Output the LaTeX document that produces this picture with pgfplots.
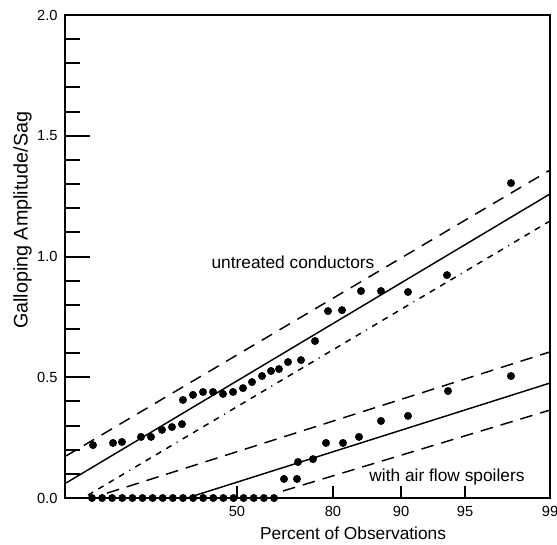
\documentclass[border=0pt]{standalone}
\usepackage{fontspec}
\setmainfont{Liberation Sans}
\usepackage{pgfplots}
\pgfplotsset{compat=1.18}
\begin{document}
\begin{tikzpicture}
\useasboundingbox (-48.75pt,-34.5pt) rectangle (369pt,373.5pt);
\begin{axis}[
  at={(0pt,0pt)}, anchor=south west,
  scale only axis,
  width=363.75pt, height=362.25pt,
  xmin=65, xmax=550, ymin=0, ymax=2,
  clip=false,
  axis line style={line width=1.5pt},
  xtick={237,333,401,465,550},
  xticklabels={50,80,90,95,99},
  ytick={0,0.5,1,1.5,2},
  yticklabels={0.0,0.5,1.0,1.5,2.0},
  minor ytick={0.1,0.2,0.3,0.4,0.6,0.7,0.8,0.9,1.1,1.2,1.3,1.4,1.6,1.7,1.8,1.9},
  xtick pos=bottom, ytick pos=left,
  tick align=inside,
  major tick length=18.75pt,
  minor tick length=11.25pt,
  xtick style={/pgfplots/major tick length=9pt},
  every tick/.style={line width=1.5pt, black},
  ticklabel style={font=\fontsize{11}{13}\selectfont},
  yticklabel style={xshift=-2pt},
  xticklabel style={yshift=-2.3pt},
  /pgf/number format/assume math mode=true,
  xlabel={Percent of Observations},
  xlabel style={at={(axis description cs:0.594,0)}, anchor=north, yshift=-21.5pt, inner sep=0pt, font=\fontsize{13}{15}\selectfont},
  ylabel={Galloping Amplitude/Sag},
  ylabel style={at={(axis description cs:-0.068,0.575)}, anchor=south, inner sep=0pt, font=\fontsize{14.8}{17}\selectfont},
]

% untreated conductors: observations
\addplot[only marks, mark=*, mark size=2.75pt, black] coordinates {
  (93,0.219) (113,0.228) (122,0.232) (141,0.253) (151,0.253) (162,0.282)
  (172,0.294) (182,0.306) (183,0.406) (193,0.427) (203,0.439) (213,0.439)
  (223,0.431) (233,0.439) (243,0.455) (252,0.480) (262,0.505) (271,0.526)
  (279,0.534) (288,0.563) (301,0.571) (315,0.650) (328,0.774) (342,0.778)
  (361,0.857) (381,0.857) (408,0.853) (447,0.923) (511,1.304)
};
% untreated conductors: fit and limits
\addplot[black, line width=1.1pt] coordinates {(66,0.062) (550,1.259)};
\addplot[black, line width=1.1pt, dash pattern=on 9pt off 6.5pt] coordinates {(66,0.174) (550,1.358)};
\addplot[black, line width=1.1pt, dash pattern=on 4.5pt off 4.5pt on 4.5pt off 4.5pt on 4.5pt off 4.5pt on 4.5pt off 4.5pt on 0.8pt off 4.5pt] coordinates {(88,0.012) (550,1.147)};

% with air flow spoilers: observations
\addplot[only marks, mark=*, mark size=2.75pt, black] coordinates {
  (92,0) (102.1,0) (112.2,0) (122.3,0) (132.4,0) (142.5,0) (152.6,0)
  (162.7,0) (172.8,0) (183,0) (193.1,0) (203.2,0) (213.3,0) (223.4,0)
  (233.5,0) (243.6,0) (253.7,0) (263.8,0) (274,0)
  (284,0.079) (297,0.079) (298,0.149) (313,0.161) (326,0.228) (343,0.228)
  (359,0.253) (381,0.319) (408,0.340) (448,0.443) (511,0.505)
};
% with air flow spoilers: fit and limits
\addplot[black, line width=1.1pt] coordinates {(187,0) (550,0.476)};
\addplot[black, line width=1.1pt, dash pattern=on 9.5pt off 6pt] coordinates {(107,0.02) (550,0.605)};
\addplot[black, line width=1.1pt, dash pattern=on 9.5pt off 6pt] coordinates {(283,0.029) (550,0.364)};

\node[font=\fontsize{13}{15}\selectfont] at (axis cs:293,0.977) {untreated conductors};
\node[font=\fontsize{13}{15}\selectfont] at (axis cs:447,0.087) {with air flow spoilers};
\end{axis}
\end{tikzpicture}
\end{document}
